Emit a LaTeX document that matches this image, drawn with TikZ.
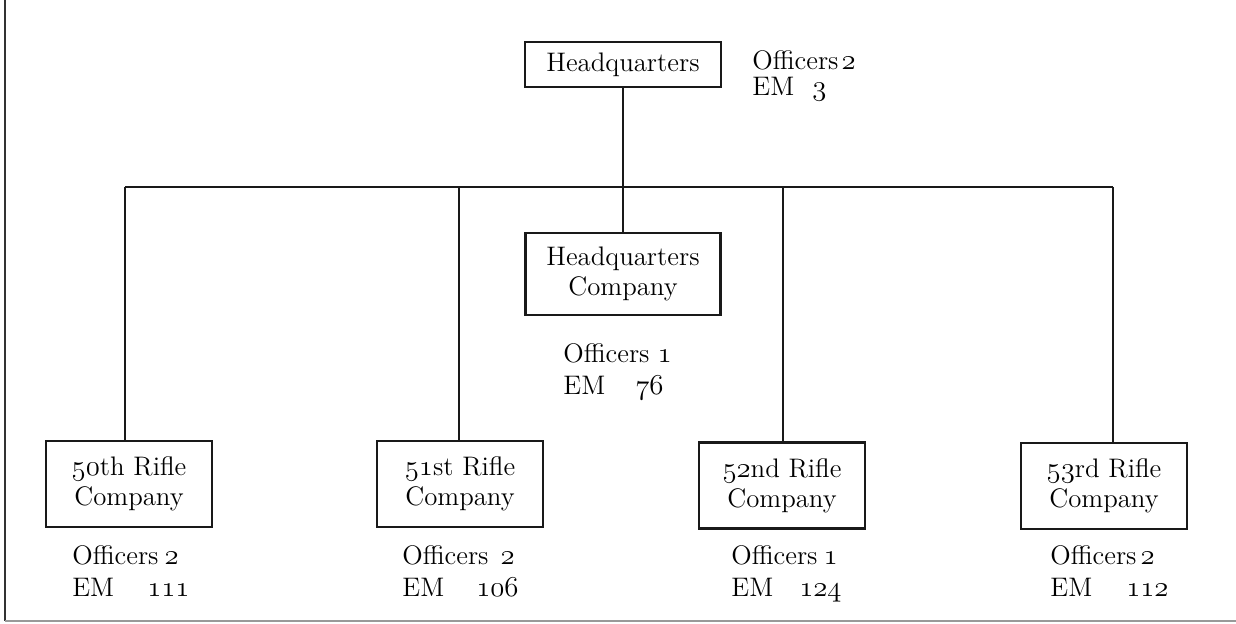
\documentclass[tikz,border=0pt]{standalone}
\usepackage{fontspec}
\usetikzlibrary{positioning}

\newcommand\osn[1]{{\usefont{OML}{cmm}{m}{it}#1}}

\tikzset{
  unit/.style={draw=black!90, line width=1.2pt, align=center, inner sep=2pt,
    minimum width=83pt, minimum height=43pt, font=\fontsize{13.4}{15}\selectfont},
  staff/.style={anchor=north west, align=left, inner sep=0pt,
    font=\fontsize{13.4}{16}\selectfont},
  link/.style={draw=black!90, line width=1.2pt},
}

\begin{document}
\begin{tikzpicture}[x=0.5pt, y=-0.5pt]
	\useasboundingbox (0,0) rectangle (1236,624);
	% page frame
	\draw[black!80, line width=1pt] (5,0) -- (5,621);
	\draw[black!40, line width=1pt] (5,621) -- (1236,621);

	\node[unit, minimum width=98pt, minimum height=22.5pt] (hq) at (623,64.5) {Headquarters};
	\node[staff, font=\fontsize{13.4}{13}\selectfont] (hqstaff) at (752,50)
		{Officers\hspace{1.5pt}\osn{2}\\EM\hspace{9pt}\osn{3}};

	\node[unit, minimum width=97.5pt, minimum height=41pt] (hqco) at (623,274) {Headquarters\\Company};
	\node[staff] (hqcostaff) at (563,343)
		{Officers\hspace{4pt}\osn{1}\\EM\hspace{15pt}\osn{76}};

	\node[unit] (r50) at (129,484) {\osn{50}th Rifle\\Company};
	\node[unit] (r51) at (460,484) {\osn{51}st Rifle\\Company};
	\node[unit] (r52) at (782,485.5) {\osn{52}nd Rifle\\Company};
	\node[unit] (r53) at (1104,486) {\osn{53}rd Rifle\\Company};

	\node[staff] (s50) at (72,545) {Officers\hspace{3pt}\osn{2}\\EM\hspace{16.5pt}\osn{111}};
	\node[staff] (s51) at (402,545) {Officers\hspace{6pt}\osn{2}\\EM\hspace{16pt}\osn{106}};
	\node[staff] (s52) at (731,545) {Officers\hspace{3pt}\osn{1}\\EM\hspace{13pt}\osn{124}};
	\node[staff] (s53) at (1050,545) {Officers\hspace{2pt}\osn{2}\\EM\hspace{17pt}\osn{112}};

	% bus
	\coordinate (c50) at (125,187);
	\coordinate (c51) at (459,187);
	\coordinate (c52) at (783,187);
	\coordinate (c53) at (1113,187);
	\coordinate (chq) at (hq.south |- c50);

	\path[link]
	(hq) -- (chq)
	(c50) -- (c53)
	(chq) -- (hqco)
	(c50) -- (c50 |- r50.north)
	(c51) -- (c51 |- r51.north)
	(c52) -- (c52 |- r52.north)
	(c53) -- (c53 |- r53.north)
	;
\end{tikzpicture}
\end{document}
